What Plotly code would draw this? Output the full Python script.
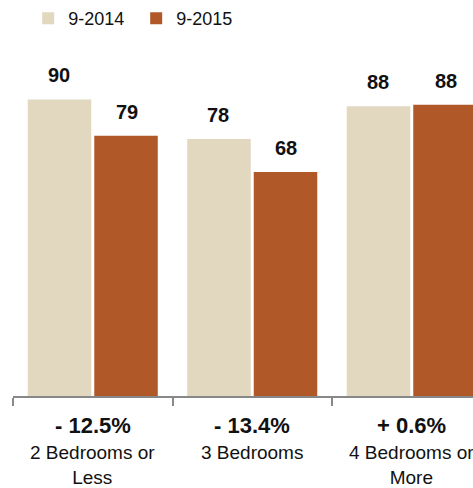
import plotly.graph_objects as go

# Median days on market by home size
categories = ["2 Bedrooms or Less", "3 Bedrooms", "4 Bedrooms or More"]
name_lines = ["2 Bedrooms or<br>Less", "3 Bedrooms", "4 Bedrooms or<br>More"]
pct_change = ["- 12.5%", "- 13.4%", "+ 0.6%"]
series_names = ["9-2014", "9-2015"]
values_2014 = [90, 78, 87.9]
values_2015 = [79, 68, 88.4]
colors = ["#E2D7BF", "#B15828"]

FONT = "Liberation Sans, Arial, Helvetica, sans-serif"

fig = go.Figure()
for name, vals, col in zip(series_names, [values_2014, values_2015], colors):
    fig.add_trace(go.Bar(
        x=categories, y=vals, name=name,
        marker=dict(color=col, line=dict(width=0)),
        hoverinfo="skip",
    ))

# value labels above each bar
for shift, vals in zip([-34, 34], [values_2014, values_2015]):
    for c, v in zip(categories, vals):
        fig.add_annotation(
            x=c, y=v, xref="x", yref="y", text=f"<b>{v:.0f}</b>",
            showarrow=False, xshift=shift, yshift=24, yanchor="middle",
            font=dict(size=20, color="#111111", family=FONT),
        )

# category captions under the axis
for c, p, n in zip(categories, pct_change, name_lines):
    fig.add_annotation(
        x=c, y=0, xref="x", yref="paper", text=f"<b>{p}</b>",
        showarrow=False, yanchor="middle", yshift=-29,
        font=dict(size=22, color="#111111", family=FONT),
    )
    fig.add_annotation(
        x=c, y=0, xref="x", yref="paper", text=n,
        showarrow=False, yanchor="top", yshift=-44,
        font=dict(size=19, color="#111111", family=FONT),
    )

fig.update_layout(
    width=473, height=488,
    margin=dict(l=13, r=0, t=50, b=92),
    paper_bgcolor="white", plot_bgcolor="white",
    barmode="group", bargap=0.166, bargroupgap=0.045,
    font=dict(family=FONT, color="#111111"),
    showlegend=True,
    legend=dict(
        orientation="h", x=0.033, y=1.0, xref="paper", yref="container",
        xanchor="left", yanchor="top",
        font=dict(size=18, color="#111111", family=FONT),
        itemwidth=30, traceorder="normal",
        entrywidth=63, entrywidthmode="pixels",
    ),
    xaxis=dict(
        range=[-0.5, 2.384], showticklabels=False,
        tickson="boundaries", ticks="outside", ticklen=8, tickwidth=2,
        tickcolor="#888888", showline=True, linecolor="#888888", linewidth=2,
        showgrid=False, zeroline=False, fixedrange=True,
    ),
    yaxis=dict(
        range=[0, 105], visible=False, showgrid=False, zeroline=False,
    ),
)

fig.write_html("out.html")
